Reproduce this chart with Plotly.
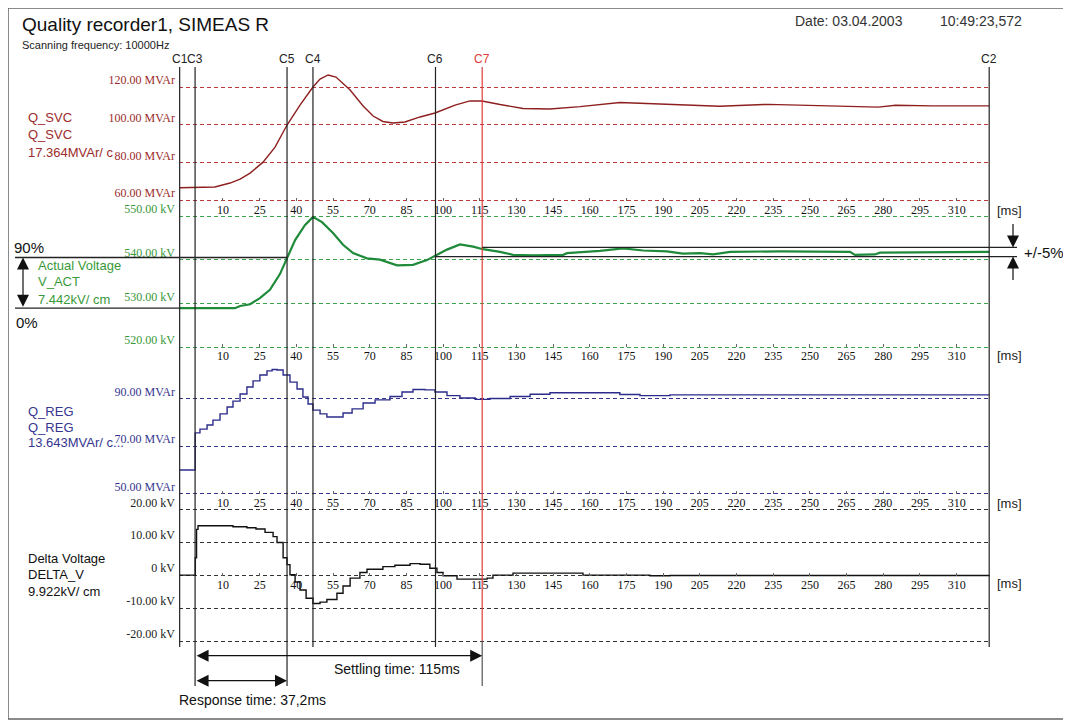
import plotly.graph_objects as go

# ---------------- data ----------------
time_ticks = [10, 25, 40, 55, 70, 85, 100, 115, 130, 145, 160, 175, 190, 205,
              220, 235, 250, 265, 280, 295, 310]

cursor_names = ["C1", "C3", "C5", "C4", "C6", "C7", "C2"]
cursor_times = [-7.7, -1.4, 36.2, 46.8, 96.9, 116.0, 323.3]

# Q_SVC [MVAr]
t_qsvc = [-7.7, 6.7, 12.9, 17.0, 21.1, 26.4, 31.3, 36.2, 41.5, 46.8, 49.7, 53.0,
          56.2, 62.0, 67.3, 71.4, 75.4, 79.5, 84.4, 90.6, 96.7, 104.9, 111.0,
          115.9, 123.3, 132.7, 143.7, 156.0, 172.3, 184.6, 201.0, 213.0, 233.0,
          246.0, 262.0, 278.0, 285.0, 300.0, 323.3]
q_svc = [66.5, 66.9, 69.0, 71.1, 74.3, 80.1, 88.1, 99.8, 110.4, 120.0, 124.2, 126.4,
         125.3, 118.4, 109.9, 104.6, 101.7, 100.9, 101.4, 104.1, 106.2, 110.4, 112.6,
         112.6, 110.7, 108.6, 108.3, 109.6, 111.8, 111.2, 110.2, 109.8, 110.8,
         110.4, 109.6, 109.3, 110.3, 110.0, 110.0]

# V_ACT [kV]
t_vact = [-7.7, 14.9, 17.0, 21.1, 25.1, 29.2, 33.3, 36.2, 39.5, 43.5, 46.8, 50.5,
          55.0, 59.1, 63.2, 68.9, 74.2, 81.2, 87.7, 93.4, 97.5, 101.6, 106.9, 112.3,
          116.3, 123.3, 128.6, 136.8, 149.1, 150.7, 164.2, 173.6, 181.8, 191.5,
          198.1, 205.1, 210.4, 217.4, 237.8, 266.4, 268.4, 276.6, 278.6, 323.3]
v_act = [528.9, 528.9, 529.4, 529.8, 531.2, 533.1, 536.7, 540.2, 544.5, 547.9, 549.8, 548.6,
         546.1, 543.4, 541.5, 540.3, 540.0, 538.7, 538.8, 539.9, 541.1, 542.3, 543.5, 543.0,
         542.4, 541.8, 541.1, 541.0, 541.1, 541.5, 542.0, 542.6, 542.1, 541.9,
         541.4, 541.5, 541.2, 541.8, 541.9, 541.8, 541.1, 541.2, 541.6, 541.8]

# Q_REG [MVAr]
t_qreg = [-7.7, -1.4, -1.35, 0.6, 3.5, 5.9, 8.8, 11.7, 14.1, 17.0, 19.8, 22.3, 25.1,
          28.0, 30.1, 32.1, 34.6, 37.4, 40.3, 42.7, 44.8, 46.8, 49.7, 52.5, 55.8,
          59.1, 62.8, 67.3, 72.2, 78.3, 83.2, 87.7, 92.6, 96.7, 101.6, 106.9, 113.1,
          119.2, 127.4, 135.6, 143.7, 160.1, 172.3, 180.5, 192.8, 323.3]
q_reg = [60.0, 60.0, 75.6, 77.2, 78.9, 81.0, 83.6, 86.5, 89.0, 92.0, 94.9, 97.5, 100.0,
         101.7, 102.3, 102.1, 100.0, 97.0, 94.1, 90.7, 87.8, 85.2, 83.6, 82.3, 82.3,
         84.0, 85.7, 88.2, 89.5, 90.9, 92.8, 93.9, 93.7, 92.8, 91.3, 90.3, 89.7,
         90.1, 90.9, 91.9, 92.5, 92.5, 91.8, 91.3, 91.6, 91.6]

# DELTA_V [kV]
t_dv = [-7.7, -1.4, -1.3, -0.8, -0.2, 10.8, 14.1, 19.8, 23.5, 27.2, 30.5, 32.1,
        34.6, 36.2, 37.4, 39.5, 41.5, 44.0, 46.8, 49.7, 52.5, 56.6, 59.1, 62.0,
        66.0, 68.9, 75.4, 80.3, 86.5, 90.6, 94.6, 97.5, 100.0, 105.7, 113.9, 118.0,
        120.4, 128.6, 156.0, 157.2, 184.6, 192.8, 323.3]
delta_v = [0.0, 0.0, 5.3, 13.9, 15.0, 15.0, 14.7, 14.4, 14.0, 13.0, 11.7, 9.9,
           5.3, 3.2, 0.1, -2.1, -4.5, -7.0, -8.6, -8.2, -7.4, -5.5, -3.3, -0.9,
           0.8, 1.8, 2.6, 3.0, 3.5, 3.3, 2.1, 0.8, -0.2, -1.2, -1.2, -0.9,
           0.0, 0.6, 0.6, 0.0, -0.2, -0.1, 0.0]

qsvc_ticks = [60, 80, 100, 120]
qsvc_text = ["60.00 MVAr", "80.00 MVAr", "100.00 MVAr", "120.00 MVAr"]
vact_ticks = [520, 530, 540, 550]
vact_text = ["520.00 kV", "530.00 kV", "540.00 kV", "550.00 kV"]
qreg_ticks = [50, 70, 90]
qreg_text = ["50.00 MVAr", "70.00 MVAr", "90.00 MVAr"]
dv_ticks = [-20, -10, 0, 10, 20]
dv_text = ["-20.00 kV", "-10.00 kV", "0 kV", "10.00 kV", "20.00 kV"]

v_initial = 528.9      # 0 % level
v_90 = 540.5           # 90 % level
band_hi, band_lo = 542.8, 540.7   # +/-5 % band

# ---------------- layout geometry (screen pixels) ----------------
W, H = 1071, 722
OFF = 8                 # page body margin: figure origin sits at screen (8, 8)
PX_PER_MS = 2.4457
T0_PX = 198.5           # screen x of t = 0 ms
X_DOM = (179, 990)      # screen x extent of the time axis


def px(x):
    return (x - OFF) / W


def py(y):
    return 1 - (y - OFF) / H


def t2paper(t):
    return px(T0_PX + t * PX_PER_MS)


def yrange(v1, p1, v2, p2):
    p1 -= OFF
    p2 -= OFF
    s = (p2 - p1) / (v1 - v2)
    return [v1 - (H - p1) / s, v1 + p1 / s]


x_range = [(X_DOM[0] - T0_PX) / PX_PER_MS, (X_DOM[1] - T0_PX) / PX_PER_MS]

C_SVC, C_SVC_G, C_SVC_T = "#8e1f1f", "#b83a3a", "#9c2c2c"
C_ACT, C_ACT_G, C_ACT_T = "#1f8a3a", "#3aa44a", "#3a9a3a"
C_REG, C_REG_G, C_REG_T = "#2c2c8c", "#34348a", "#363690"
C_DV, C_DV_G, C_DV_T = "#111111", "#333333", "#222222"
SERIF = "Liberation Serif, Times New Roman, serif"
SANS = "Liberation Sans, Arial, sans-serif"

fig = go.Figure()
series = [
    (t_qsvc, q_svc, "y", C_SVC, 1.4, "linear"),
    (t_vact, v_act, "y2", C_ACT, 2.2, "linear"),
    (t_qreg, q_reg, "y3", C_REG, 1.4, "hv"),
    (t_dv, delta_v, "y4", C_DV, 1.4, "hv"),
]
for tx, vy, ya, col, wd, shp in series:
    fig.add_trace(go.Scatter(x=tx, y=vy, mode="lines", xaxis="x", yaxis=ya,
                             line=dict(color=col, width=wd, shape=shp),
                             hoverinfo="skip"))
# empty traces so that the extra time-label rows get drawn
for xa in ["x2", "x3", "x4"]:
    fig.add_trace(go.Scatter(x=[None], y=[None], mode="lines", xaxis=xa, yaxis="y",
                             hoverinfo="skip", showlegend=False))


def yax(rng, tv, tt, col, gcol, overlay=None):
    d = dict(domain=[0, 1], range=rng, anchor="x", side="left", showline=False,
             zeroline=False, ticks="", tickvals=tv, ticktext=tt,
             tickfont=dict(family=SERIF, size=12, color=col),
             ticklabelshift=-7, ticklabelstandoff=3,
             showgrid=True, gridcolor=gcol, gridwidth=1, griddash="4px,3px",
             fixedrange=True)
    if overlay:
        d["overlaying"] = overlay
    return d


def xax(pos_px, overlay=None):
    d = dict(domain=[px(X_DOM[0]), px(X_DOM[1])], range=x_range, anchor="free",
             position=py(pos_px), side="bottom", showline=False, zeroline=False,
             showgrid=False, tickvals=time_ticks, ticks="inside", ticklen=3,
             tickcolor="#666", tickfont=dict(family=SERIF, size=12, color="#111"),
             ticklabelstandoff=0, fixedrange=True)
    if overlay:
        d["overlaying"] = overlay
    return d


fig.update_layout(
    width=W, height=H, margin=dict(l=0, r=0, t=0, b=0),
    paper_bgcolor="white", plot_bgcolor="rgba(0,0,0,0)", showlegend=False,
    hovermode=False,
    xaxis=xax(201),
    xaxis2=xax(347, "x"),
    xaxis3=xax(494, "x"),
    xaxis4=xax(576, "x"),
    yaxis=yax(yrange(120, 87, 60, 200), qsvc_ticks, qsvc_text, C_SVC_T, C_SVC_G),
    yaxis2=yax(yrange(550, 216, 520, 347), vact_ticks, vact_text, C_ACT_T, C_ACT_G, "y"),
    yaxis3=yax(yrange(90, 398.7, 50, 493.7), qreg_ticks, qreg_text, C_REG_T, C_REG_G, "y"),
    yaxis4=yax(yrange(20, 509.3, -20, 641), dv_ticks, dv_text, C_DV_T, C_DV_G, "y"),
)

shapes = []
# outer frame
shapes.append(dict(type="rect", xref="paper", yref="paper", x0=px(8), x1=px(1066),
                   y0=py(719), y1=py(8), line=dict(color="#666", width=1.5)))
# cursors
long_cursors = {"C3", "C5", "C7"}
for name, t in zip(cursor_names, cursor_times):
    bottom = 686 if name in long_cursors else 647
    if name == "C7":
        shapes.append(dict(type="line", xref="x", yref="paper", x0=t, x1=t,
                           y0=py(67), y1=py(641), line=dict(color="#e03a3a", width=1.2)))
        shapes.append(dict(type="line", xref="x", yref="paper", x0=t, x1=t,
                           y0=py(641), y1=py(bottom), line=dict(color="#555", width=1.2)))
    else:
        shapes.append(dict(type="line", xref="x", yref="paper", x0=t, x1=t,
                           y0=py(67), y1=py(bottom), line=dict(color="#222", width=1.2)))
c5 = cursor_times[cursor_names.index("C5")]
c1 = cursor_times[cursor_names.index("C1")]
c6 = cursor_times[cursor_names.index("C6")]
c7 = cursor_times[cursor_names.index("C7")]
c3 = cursor_times[cursor_names.index("C3")]
# 90 % and 0 % lines
shapes.append(dict(type="line", xref="paper", yref="y2", x0=px(15), x1=t2paper(c5),
                   y0=v_90, y1=v_90, line=dict(color="#222", width=1.3)))
shapes.append(dict(type="line", xref="paper", yref="y2", x0=px(15), x1=t2paper(c1),
                   y0=v_initial, y1=v_initial, line=dict(color="#222", width=1.3)))
# +/-5 % band
shapes.append(dict(type="line", xref="paper", yref="y2", x0=t2paper(c7), x1=px(1017),
                   y0=band_hi, y1=band_hi, line=dict(color="#222", width=1.3)))
shapes.append(dict(type="line", xref="paper", yref="y2", x0=t2paper(c6), x1=px(1017),
                   y0=band_lo, y1=band_lo, line=dict(color="#222", width=1.3)))
fig.update_layout(shapes=shapes)

ann = []


def txt(x, y, s, size=13, color="#222", xanchor="left", family=SANS):
    ann.append(dict(x=x, y=y, xref="paper", yref="paper", text=s, showarrow=False,
                    xanchor=xanchor, yanchor="middle",
                    font=dict(family=family, size=size, color=color)))


def arrow(x, y, ax, ay, xref, yref, axref, ayref, both=True):
    ann.append(dict(x=x, y=y, ax=ax, ay=ay, xref=xref, yref=yref, axref=axref,
                    ayref=ayref, text="", showarrow=True, arrowhead=2,
                    startarrowhead=2, arrowside="end+start" if both else "end",
                    arrowsize=2.0, startarrowsize=2.0, arrowwidth=1.2,
                    arrowcolor="#111", standoff=0, startstandoff=0))


txt(px(20), py(24), "Quality recorder1, SIMEAS R", size=19, color="#111")
txt(px(20), py(45), "Scanning frequency: 10000Hz", size=11, color="#222")
txt(px(793), py(21), "Date: 03.04.2003", size=14, color="#333")
txt(px(938), py(21), "10:49:23,572", size=14, color="#333")

for name, t in zip(cursor_names, cursor_times):
    ann.append(dict(x=t, y=py(59), xref="x", yref="paper", text=name, showarrow=False,
                    xanchor="center", yanchor="middle",
                    font=dict(family=SANS, size=12,
                              color="#e03a3a" if name == "C7" else "#222")))

for yy, s in zip([117, 134, 153], ["Q_SVC", "Q_SVC", "17.364MVAr/ c"]):
    txt(px(26), py(yy), s, size=13, color=C_SVC_T)
for yy, s in zip([266, 282, 299], ["Actual Voltage", "V_ACT", "7.442kV/ cm"]):
    txt(px(36), py(yy), s, size=13, color=C_ACT_T)
for yy, s in zip([411, 427, 442], ["Q_REG", "Q_REG", "13.643MVAr/ c..."]):
    txt(px(26), py(yy), s, size=13, color=C_REG_T)
for yy, s in zip([558, 574, 591], ["Delta Voltage", "DELTA_V", "9.922kV/ cm"]):
    txt(px(26), py(yy), s, size=13, color="#111")

txt(px(12), py(248), "90%", size=15, color="#111")
txt(px(14), py(322), "0%", size=15, color="#111")
txt(px(1022), py(252), "+/-5%", size=15, color="#111")
for yy in [210, 355, 503, 583]:
    txt(px(995), py(yy), "[ms]", size=13, color="#222")

txt(px(397), py(669), "Settling time: 115ms", size=14, color="#111", xanchor="center")
txt(px(252), py(700), "Response time: 37,2ms", size=14, color="#111", xanchor="center")

# arrows
arrow(c7, py(655.7), c3, 0, "x", "paper", "x", "pixel")
arrow(c5, py(680.7), c3, 0, "x", "paper", "x", "pixel")
arrow(px(23), v_90, 0, v_initial, "paper", "y2", "pixel", "y2")
arrow(px(1013), band_hi, 0, -25, "paper", "y2", "pixel", "pixel", both=False)
arrow(px(1013), band_lo, 0, 25, "paper", "y2", "pixel", "pixel", both=False)

fig.update_layout(annotations=ann)
fig.write_html("out.html")
